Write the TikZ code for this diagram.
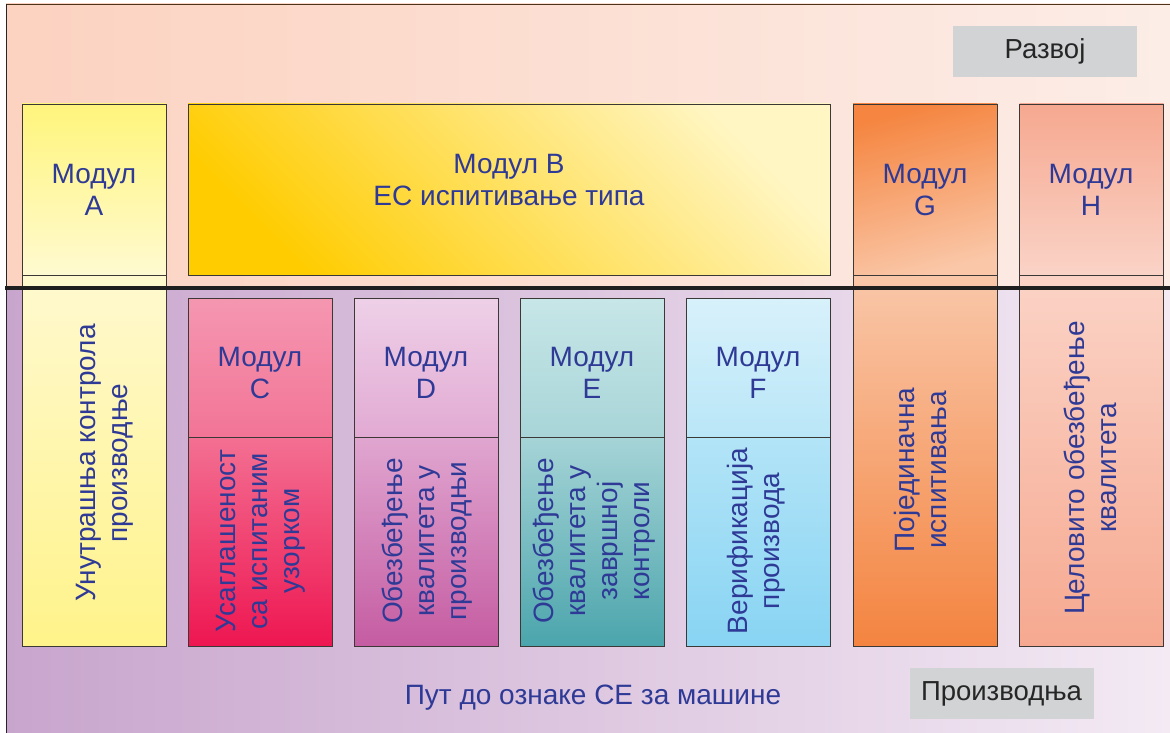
\documentclass[tikz,border=0pt]{standalone}
\usepackage{fontspec}
\setmainfont{Liberation Sans}
\definecolor{txtblue}{HTML}{2E3A96}
\definecolor{bordercol}{HTML}{3C3836}
\definecolor{topL}{HTML}{FCD2C0}
\definecolor{topR}{HTML}{FCEDE7}
\definecolor{botL}{HTML}{C8A5CD}
\definecolor{botR}{HTML}{F3EAF4}
\definecolor{grayboxc}{HTML}{D1D3D4}
\definecolor{aUt}{HTML}{FFF57C}\definecolor{aUb}{HTML}{FFFAD0}
\definecolor{aLt}{HTML}{FFF9CF}\definecolor{aLb}{HTML}{FFF38A}
\definecolor{bA}{HTML}{FFCC00}\definecolor{bB}{HTML}{FFF6C4}
\definecolor{cUt}{HTML}{F597B1}\definecolor{cUb}{HTML}{F27496}
\definecolor{cLt}{HTML}{F37093}\definecolor{cLb}{HTML}{EE1651}
\definecolor{dUt}{HTML}{EED0E8}\definecolor{dUb}{HTML}{E2AAD3}
\definecolor{dLt}{HTML}{E0A6D0}\definecolor{dLb}{HTML}{C55CA2}
\definecolor{eUt}{HTML}{C7E6E7}\definecolor{eUb}{HTML}{A8D5D8}
\definecolor{eLt}{HTML}{A6D4D7}\definecolor{eLb}{HTML}{4BA5AC}
\definecolor{fUt}{HTML}{D8F1FB}\definecolor{fUb}{HTML}{B9E6F7}
\definecolor{fLt}{HTML}{B3E4F7}\definecolor{fLb}{HTML}{88D4F3}
\definecolor{gUt}{HTML}{F58540}\definecolor{gUb}{HTML}{FAC7A8}
\definecolor{gLt}{HTML}{F9C7A9}\definecolor{gLb}{HTML}{F48440}
\definecolor{hUt}{HTML}{F6A890}\definecolor{hUb}{HTML}{FAD3C7}
\definecolor{hLt}{HTML}{FBD3C6}\definecolor{hLb}{HTML}{F6A990}
\begin{document}
\begin{tikzpicture}[x=1pt,y=-1pt,
  modbox/.style={draw=bordercol, line width=0.9pt, inner sep=0pt, outer sep=0pt, minimum width=144, shading=axis},
  lbl/.style={text=txtblue, align=center, inner sep=0pt, font=\fontsize{28}{32}\selectfont},
  vlbl/.style={lbl, rotate=90},
  graybox/.style={fill=grayboxc, inner sep=0pt, minimum width=184, minimum height=51, font=\fontsize{27.5}{31}\selectfont, text=black!85}
]
\useasboundingbox (0,0) rectangle (1170,733);
% backgrounds
\fill[left color=topL, right color=topR] (6,4) rectangle (1170,288);
\fill[left color=botL, right color=botR] (6,288) rectangle (1170,733);
\draw[line width=1pt, draw=black!60!brown] (6,4.5) -- (1170,4.5);
\draw[line width=1.2pt, draw=black!85] (6.5,4) -- (6.5,733);

% gray labels
\node[graybox] (razvoj) at (1045,51.5) {Развој};
\node[graybox] (proizv) at (1001.5,693.5) {Производња};

% Module A
\node[modbox, minimum height=371, top color=aLt, bottom color=aLb] (Alow) at (94,460.5) {};
\node[modbox, minimum height=171, top color=aUt, bottom color=aUb] (Aup) at (94,189.5) {};
% Module B
\node[modbox, minimum width=642, minimum height=171, top color=bB, bottom color=bA, shading angle=-45] (B) at (509,189.5) {};
% Module G
\node[modbox, minimum height=371, top color=gLt, bottom color=gLb] (Glow) at (925,460.5) {};
\node[modbox, minimum height=171, top color=gUt, bottom color=gUb, shading angle=15] (Gup) at (925,189.5) {};
% Module H
\node[modbox, minimum height=371, top color=hLt, bottom color=hLb] (Hlow) at (1091.5,460.5) {};
\node[modbox, minimum height=171, top color=hUt, bottom color=hUb] (Hup) at (1091.5,189.5) {};
% Modules C-F
\node[modbox, minimum height=139, top color=cUt, bottom color=cUb] (Cup) at (260,367.5) {};
\node[modbox, minimum height=209, top color=cLt, bottom color=cLb] (Clow) at (260,541.5) {};
\node[modbox, minimum height=139, top color=dUt, bottom color=dUb] (Dup) at (426,367.5) {};
\node[modbox, minimum height=209, top color=dLt, bottom color=dLb] (Dlow) at (426,541.5) {};
\node[modbox, minimum height=139, top color=eUt, bottom color=eUb] (Eup) at (592,367.5) {};
\node[modbox, minimum height=209, top color=eLt, bottom color=eLb] (Elow) at (592,541.5) {};
\node[modbox, minimum height=139, top color=fUt, bottom color=fUb] (Fup) at (758,367.5) {};
\node[modbox, minimum height=209, top color=fLt, bottom color=fLb] (Flow) at (758,541.5) {};

% dividing line
\coordinate (divL) at (5,288);
\coordinate (divR) at (1170,288);
\draw[line width=4pt, draw=black!88] (divL) -- (divR);

% labels
\node[lbl] (tA) at (94,190) {Модул\\A};
\node[lbl] (tB) at (509,180) {Модул B\\ЕС испитивање типа};
\node[lbl] (tG) at (925,190) {Модул\\G};
\node[lbl] (tH) at (1091,190) {Модул\\H};
\node[lbl] (tC) at (260,373) {Модул\\C};
\node[lbl] (tD) at (426,373) {Модул\\D};
\node[lbl] (tE) at (592,373) {Модул\\E};
\node[lbl] (tF) at (758,373) {Модул\\F};

\node[vlbl] (vA) at (105,463) {Унутрашња контрола\\производње};
\node[vlbl] (vC) at (261,541) {Усаглашеност\\са испитаним\\узорком};
\node[vlbl] (vD) at (427,541) {Обезбеђење\\квалитета у\\производњи};
\node[vlbl] (vE) at (594,541) {Обезбеђење\\квалитета у\\завршној\\контроли};
\node[vlbl] (vF) at (756,541) {Верификација\\производа};
\node[vlbl] (vG) at (920,470) {Појединачна\\испитивања};
\node[vlbl] (vH) at (1090,468) {Целовито обезбеђење\\квалитета};

\node[lbl] (put) at (593,698) {Пут до ознаке CE за машине};
\end{tikzpicture}
\end{document}
